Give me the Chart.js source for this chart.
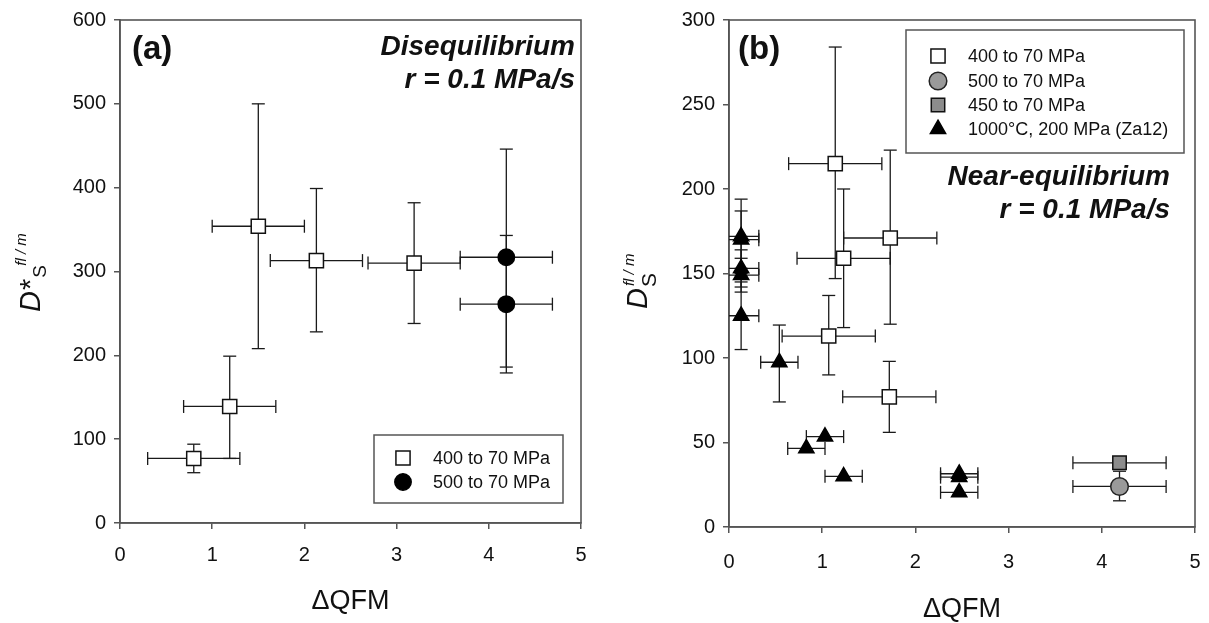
<!DOCTYPE html>
<html><head><meta charset="utf-8">
<script src="https://cdn.jsdelivr.net/npm/chart.js@4.4.1/dist/chart.umd.min.js"></script>
<style>
html,body{margin:0;padding:0;background:#fff;}
#wrap{position:relative;width:1209px;height:623px;overflow:hidden;background:#fff;}
canvas{position:absolute;top:0;}
</style></head><body>
<div id="wrap">
<canvas id="ca" width="605" height="623" style="left:0px"></canvas>
<canvas id="cb" width="604" height="623" style="left:605px"></canvas>
</div>
<script>
// ---------- data : panel (a) ----------
const aOpenX     = [0.80, 1.19, 1.50, 2.13, 3.19];
const aOpenY     = [77, 139, 354, 313, 310];
const aOpenXErr  = [0.5, 0.5, 0.5, 0.5, 0.5];
const aOpenYHigh = [94, 199, 500, 399, 382];
const aOpenYLow  = [60, 77, 208, 228, 238];

const aFillX     = [4.19, 4.19];
const aFillY     = [317, 261];
const aFillXErr  = [0.5, 0.5];
const aFillYHigh = [446, 343];
const aFillYLow  = [186, 179];

// ---------- data : panel (b) ----------
const bOpenX     = [1.14, 1.23, 1.73, 1.07, 1.72];
const bOpenY     = [215, 159, 171, 113, 77];
const bOpenXErr  = [0.5, 0.5, 0.5, 0.5, 0.5];
const bOpenYHigh = [284, 200, 223, 137, 98];
const bOpenYLow  = [147, 118, 120, 90, 56];

const bCircX     = [4.19];
const bCircY     = [24];
const bCircXErr  = [0.5];
const bCircYHigh = [33];
const bCircYLow  = [15.5];

const bSqX       = [4.19];
const bSqY       = [38];
const bSqXErr    = [0.5];
const bSqYHigh   = [41];
const bSqYLow    = [35];

const bTriX      = [0.13, 0.13, 0.13, 0.13, 0.13, 0.54, 0.83, 1.03, 1.23, 2.47, 2.47, 2.47];
const bTriY      = [172, 170, 153, 149, 125, 97.5, 46.5, 53.5, 30, 31.5, 29.5, 20.5];
const bTriXErr   = [0.19, 0.19, 0.19, 0.19, 0.19, 0.2, 0.2, 0.2, 0.2, 0.2, 0.2, 0.2];
const bTriYHigh  = [194, 187, 164, 159, 145, 119.5, 46.5, 53.5, 30, 31.5, 29.5, 20.5];
const bTriYLow   = [150, 153, 142, 139, 105, 74, 46.5, 53.5, 30, 31.5, 29.5, 20.5];

// ---------- labels / ticks ----------
const xTickValues = [0, 1, 2, 3, 4, 5];
const aYTickValues = [0, 100, 200, 300, 400, 500, 600];
const bYTickValues = [0, 50, 100, 150, 200, 250, 300];
const xTitle = 'ΔQFM';
const labOpen = '400 to 70 MPa';
const labFill500 = '500 to 70 MPa';
const labGray450 = '450 to 70 MPa';
const labTri = '1000°C, 200 MPa (Za12)';

const FONT = "'Liberation Sans', Arial, Helvetica, sans-serif";
Chart.defaults.font.family = FONT;
Chart.defaults.color = '#111';

function pts(xs, ys, xe, yh, yl) {
  return xs.map((v, i) => ({x: v, y: ys[i], xMin: v - xe[i], xMax: v + xe[i], yMin: yl[i], yMax: yh[i]}));
}

const errorBars = {
  id: 'errorBars',
  beforeDatasetsDraw(chart) {
    const {ctx, chartArea: ca, scales: {x, y}} = chart;
    ctx.save();
    ctx.beginPath(); ctx.rect(ca.left, ca.top, ca.right - ca.left, ca.bottom - ca.top); ctx.clip();
    ctx.strokeStyle = '#1a1a1a'; ctx.lineWidth = 1.3;
    const cap = 6.5;
    const seg = (x1, y1, x2, y2) => { ctx.beginPath(); ctx.moveTo(x1, y1); ctx.lineTo(x2, y2); ctx.stroke(); };
    chart.data.datasets.forEach(ds => {
      ds.data.forEach(p => {
        const px = x.getPixelForValue(p.x), py = y.getPixelForValue(p.y);
        if (p.xMax !== p.xMin) {
          const x1 = x.getPixelForValue(p.xMin), x2 = x.getPixelForValue(p.xMax);
          seg(x1, py, x2, py); seg(x1, py - cap, x1, py + cap); seg(x2, py - cap, x2, py + cap);
        }
        if (p.yMax !== p.yMin) {
          const y1 = y.getPixelForValue(p.yMin), y2 = y.getPixelForValue(p.yMax);
          seg(px, y1, px, y2); seg(px - cap, y1, px + cap, y1); seg(px - cap, y2, px + cap, y2);
        }
      });
    });
    ctx.restore();
  }
};

const frame = {
  id: 'frame',
  beforeDatasetsDraw(chart) {
    const {ctx, chartArea: ca} = chart;
    ctx.save();
    ctx.strokeStyle = '#555'; ctx.lineWidth = 1.6;
    ctx.strokeRect(ca.left, ca.top, ca.right - ca.left, ca.bottom - ca.top);
    ctx.restore();
  }
};

const annot = {
  id: 'annot',
  afterDraw(chart, args, o) {
    const ctx = chart.ctx;
    ctx.save();
    ctx.fillStyle = '#111';
    // panel letter
    ctx.font = 'bold 33px ' + FONT; ctx.textAlign = 'left'; ctx.textBaseline = 'alphabetic';
    ctx.fillText(o.letter, o.letterX, o.letterY);
    // regime text
    ctx.font = 'italic bold 28px ' + FONT; ctx.textAlign = 'right';
    ctx.fillText(o.line1, o.textX, o.line1Y);
    ctx.fillText('r = 0.1 MPa/s', o.textX, o.line1Y + 33);
    // legend
    const L = o.legend;
    ctx.strokeStyle = '#555'; ctx.lineWidth = 1.5;
    ctx.strokeRect(L.x0, L.y0, L.x1 - L.x0, L.y1 - L.y0);
    ctx.font = '18px ' + FONT; ctx.textAlign = 'left'; ctx.textBaseline = 'middle';
    chart.data.datasets.forEach((ds, i) => {
      const yy = L.rowY[i];
      ctx.fillStyle = ds.pointBackgroundColor; ctx.strokeStyle = ds.pointBorderColor;
      Chart.helpers.drawPoint(ctx, {pointStyle: ds.pointStyle, radius: ds.pointRadius, rotation: 0, borderWidth: ds.pointBorderWidth}, L.mx, yy);
      ctx.fillStyle = '#111';
      ctx.fillText(ds.label, L.tx, yy + 1);
    });
    // y title (rotated, with sub / superscript)
    const T = o.ytitle;
    ctx.save();
    ctx.translate(T.x, T.y); ctx.rotate(-Math.PI / 2);
    ctx.textAlign = 'left'; ctx.textBaseline = 'alphabetic'; ctx.fillStyle = '#111';
    ctx.font = 'italic ' + T.dSize + 'px ' + FONT;
    ctx.fillText('D', 0, 0);
    let u = ctx.measureText('D').width;
    if (T.star) { ctx.font = T.dSize + 'px ' + FONT; ctx.fillText('*', u + 1, 0); u += ctx.measureText('*').width + 1; }
    ctx.font = T.sSize + 'px ' + FONT;
    ctx.fillText('S', u + 1, T.sOff);
    ctx.font = 'italic ' + T.supSize + 'px ' + FONT;
    ctx.fillText('fl / m', u + T.supShift, T.supOff);
    ctx.restore();
    ctx.restore();
  }
};

function ds(label, data, style, radius, fill, border) {
  return {label, data, pointStyle: style, pointRadius: radius, pointHoverRadius: radius,
    pointBackgroundColor: fill, pointBorderColor: border, pointBorderWidth: 1.5,
    backgroundColor: fill, borderColor: border, showLine: false};
}

function scales(yMax, yTicks, yWidth, xHeight, xPad, titlePad, titleLH) {
  const axisCommon = {
    grid: {drawOnChartArea: false, drawTicks: true, tickLength: 6, color: '#555', lineWidth: 1.5},
    border: {display: true, color: '#555', width: 1.6}
  };
  return {
    x: Object.assign({}, axisCommon, {
      type: 'linear', min: 0, max: 5,
      afterBuildTicks: s => { s.ticks = xTickValues.map(v => ({value: v})); },
      ticks: {font: {size: 20}, color: '#111', padding: xPad, maxRotation: 0},
      title: {display: true, text: xTitle, font: {size: 27, lineHeight: titleLH}, color: '#111', padding: {top: 0, bottom: titlePad}},
      afterFit: s => { s.height = xHeight; s.paddingLeft = 6; s.paddingRight = 6; }
    }),
    y: Object.assign({}, axisCommon, {
      type: 'linear', min: 0, max: yMax,
      afterBuildTicks: s => { s.ticks = yTicks.map(v => ({value: v})); },
      ticks: {font: {size: 20}, color: '#111', padding: 8},
      afterFit: s => { s.width = yWidth; }
    })
  };
}

const commonOpts = {
  responsive: false, animation: false, events: [],
  plugins: {legend: {display: false}, tooltip: {enabled: false}}
};

new Chart(document.getElementById('ca'), {
  type: 'scatter',
  data: {datasets: [
    ds(labOpen, pts(aOpenX, aOpenY, aOpenXErr, aOpenYHigh, aOpenYLow), 'rect', 10, '#ffffff', '#111'),
    ds(labFill500, pts(aFillX, aFillY, aFillXErr, aFillYHigh, aFillYLow), 'circle', 8.2, '#000000', '#000')
  ]},
  options: Object.assign({}, commonOpts, {
    layout: {padding: {left: 0, top: 19, right: 24, bottom: 0}},
    scales: scales(600, aYTickValues, 120, 100, 14, 5, 1.2),
    plugins: Object.assign({}, commonOpts.plugins, {annot: {
      letter: '(a)', letterX: 132, letterY: 59,
      line1: 'Disequilibrium', textX: 575, line1Y: 55,
      legend: {x0: 374, y0: 435, x1: 563, y1: 503, mx: 403, tx: 433, rowY: [458, 482]},
      ytitle: {x: 40, y: 312, dSize: 29, star: true, sSize: 19, sOff: 6, supSize: 15, supShift: 13, supOff: -14}
    }})
  }),
  plugins: [frame, errorBars, annot]
});

new Chart(document.getElementById('cb'), {
  type: 'scatter',
  data: {datasets: [
    ds(labOpen, pts(bOpenX, bOpenY, bOpenXErr, bOpenYHigh, bOpenYLow), 'rect', 10, '#ffffff', '#111'),
    ds(labFill500, pts(bCircX, bCircY, bCircXErr, bCircYHigh, bCircYLow), 'circle', 8.8, '#9a9a9a', '#222'),
    ds(labGray450, pts(bSqX, bSqY, bSqXErr, bSqYHigh, bSqYLow), 'rect', 9.5, '#8c8c8c', '#111'),
    ds(labTri, pts(bTriX, bTriY, bTriXErr, bTriYHigh, bTriYLow), 'triangle', 8.8, '#000000', '#000')
  ]},
  options: Object.assign({}, commonOpts, {
    layout: {padding: {left: 0, top: 17, right: 14, bottom: 0}},
    scales: scales(300, bYTickValues, 124, 96, 17, 0, 1.0),
    plugins: Object.assign({}, commonOpts.plugins, {annot: {
      letter: '(b)', letterX: 133, letterY: 59,
      line1: 'Near-equilibrium', textX: 565, line1Y: 185,
      legend: {x0: 301, y0: 30, x1: 579, y1: 153, mx: 333, tx: 363, rowY: [56, 81, 105, 129]},
      ytitle: {x: 42, y: 309, dSize: 29, star: false, sSize: 21, sOff: 9, supSize: 15, supShift: 2, supOff: -13}
    }})
  }),
  plugins: [frame, errorBars, annot]
});
</script>
</body></html>
